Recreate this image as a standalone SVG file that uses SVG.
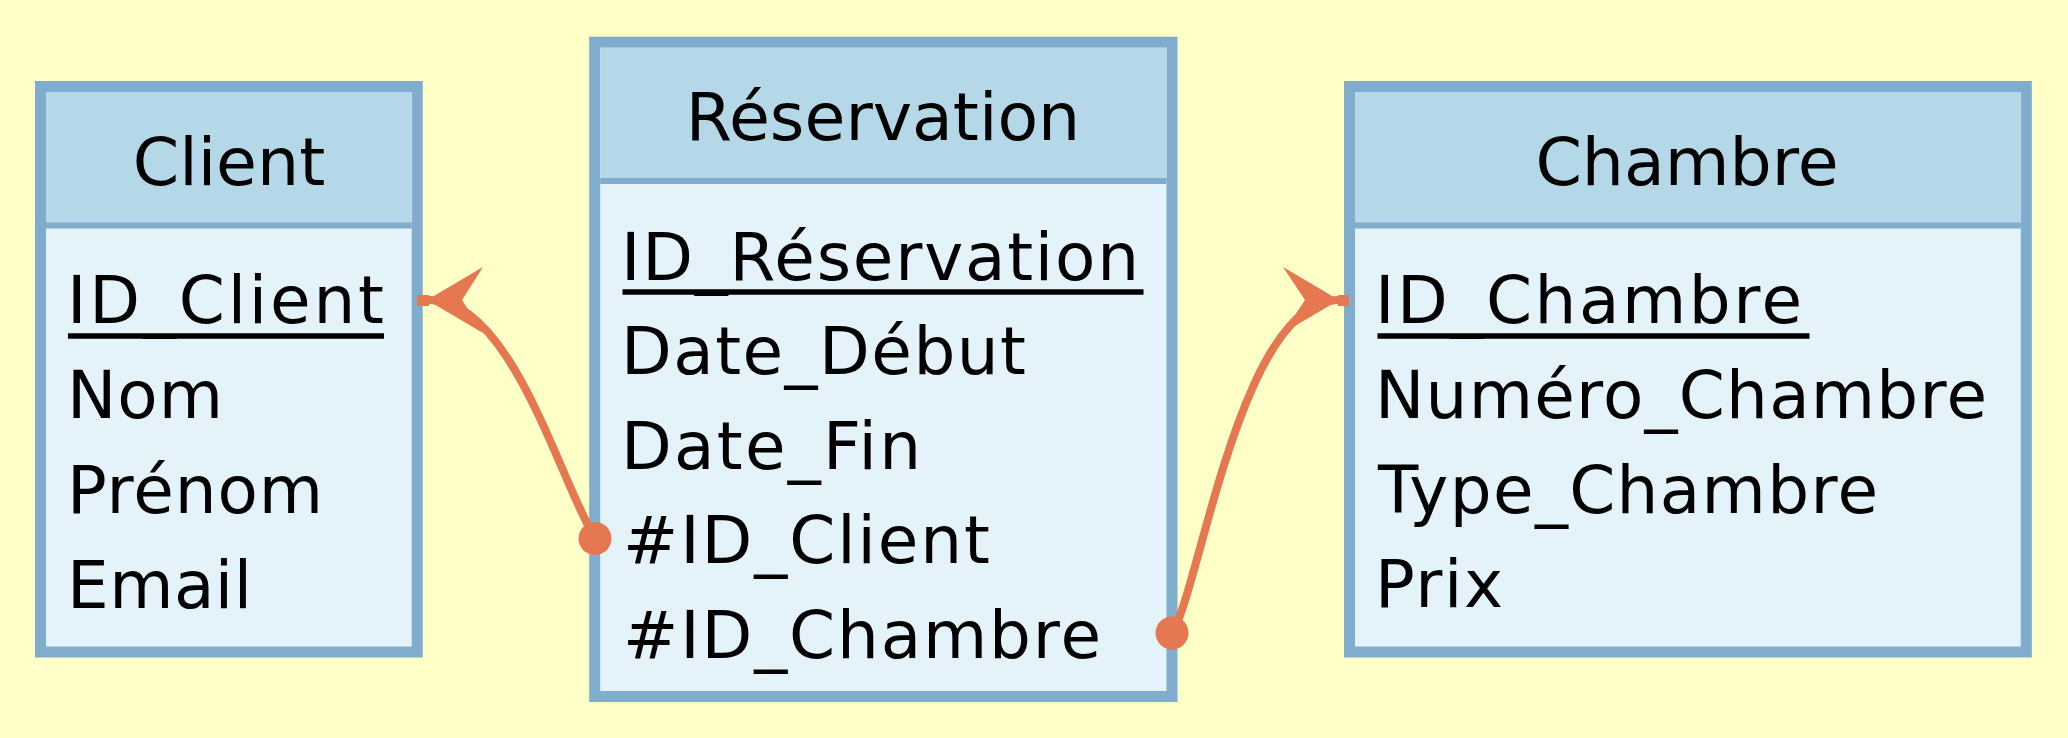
<svg xmlns="http://www.w3.org/2000/svg" width="2068" height="738" viewBox="0 0 2068 738">
<style>
.box{stroke:#80acce;stroke-width:11;fill:#e3f3f9}
.hdr{fill:#b4d8e8}
.div{stroke:#80acce;stroke-width:6}
.t{font-family:"DejaVu Sans","Liberation Sans",sans-serif;font-size:66px;fill:#000}
.h{text-anchor:middle;font-size:66.5px}
.ul{stroke:#000;stroke-width:5.5}
.conn{fill:none;stroke:#e57751;stroke-width:8}
.cf{fill:#e57751}
</style>
<rect width="2068" height="738" fill="#ffffc8"/>
<g id="client">
  <rect class="box" x="40.5" y="86.5" width="376.7" height="565.5"/>
  <rect class="hdr" x="46" y="92" width="365.7" height="131"/>
  <line class="div" x1="46" y1="225.5" x2="411.7" y2="225.5"/>
  <text class="t h" x="229" y="185">Client</text>
  <text class="t" x="67" y="323" textLength="317" lengthAdjust="spacing">ID_Client</text>
  <line class="ul" x1="68" y1="336" x2="384" y2="336"/>
  <text class="t" x="67" y="418" textLength="156" lengthAdjust="spacing">Nom</text>
  <text class="t" x="67" y="513" textLength="256" lengthAdjust="spacing">Prénom</text>
  <text class="t" x="67" y="608" textLength="185" lengthAdjust="spacing">Email</text>
</g>
<g id="reservation">
  <rect class="box" x="594.7" y="42.2" width="577.3" height="654.3"/>
  <rect class="hdr" x="600.2" y="47.7" width="566.3" height="131"/>
  <line class="div" x1="600.2" y1="181" x2="1166.5" y2="181"/>
  <text class="t h" x="883" y="140">Réservation</text>
  <text class="t" x="621" y="280" textLength="518" lengthAdjust="spacing">ID_Réservation</text>
  <line class="ul" x1="622.5" y1="292" x2="1143.5" y2="292"/>
  <text class="t" x="621" y="374" textLength="405" lengthAdjust="spacing">Date_Début</text>
  <text class="t" x="621" y="468.5" textLength="300" lengthAdjust="spacing">Date_Fin</text>
  <text class="t" x="623" y="563" textLength="367" lengthAdjust="spacing">#ID_Client</text>
  <text class="t" x="623" y="657.5" textLength="478" lengthAdjust="spacing">#ID_Chambre</text>
</g>
<g id="chambre">
  <rect class="box" x="1349.5" y="86.5" width="676.8" height="565.5"/>
  <rect class="hdr" x="1355" y="92" width="665.8" height="131"/>
  <line class="div" x1="1355" y1="225.5" x2="2020.8" y2="225.5"/>
  <text class="t h" x="1687" y="185">Chambre</text>
  <text class="t" x="1375" y="323" textLength="427" lengthAdjust="spacing">ID_Chambre</text>
  <line class="ul" x1="1377.5" y1="336" x2="1809.5" y2="336"/>
  <text class="t" x="1375" y="418" textLength="612" lengthAdjust="spacing">Numéro_Chambre</text>
  <text class="t" x="1378" y="513" textLength="500" lengthAdjust="spacing">Type_Chambre</text>
  <text class="t" x="1375" y="607" textLength="128" lengthAdjust="spacing">Prix</text>
</g>
<g id="connectors">
  <path class="conn" d="M 417 300 L 430 300 C 512 300, 560 482, 595 538"/>
  <polygon class="cf" points="427,300 483,267 462,300 483,333"/>
  <rect class="cf" x="417" y="295" width="12" height="11"/>
  <circle class="cf" cx="595" cy="538.5" r="16.5"/>
  <path class="conn" d="M 1172 633 C 1200 590, 1240 300, 1338 300 L 1349 300"/>
  <polygon class="cf" points="1339,300 1283,267 1305,300 1283,333"/>
  <rect class="cf" x="1338" y="295" width="11" height="11"/>
  <circle class="cf" cx="1172" cy="633" r="16.5"/>
</g>
</svg>
